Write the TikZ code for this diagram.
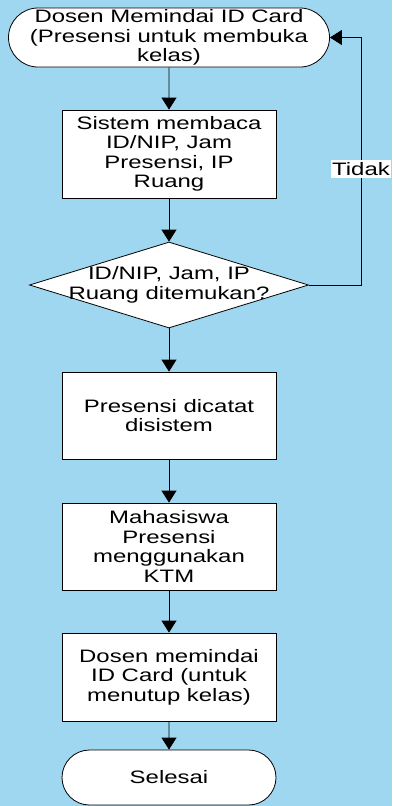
\documentclass[tikz,border=0pt]{standalone}
\usepackage{fontspec}
\setmainfont{Liberation Sans}[FakeStretch=1.33]
\usetikzlibrary{shapes.geometric,shapes.misc,arrows.meta}
\definecolor{bgblue}{RGB}{160,215,240}
\begin{document}
\begin{tikzpicture}[x=1pt,y=-1pt,
  every node/.style={font=\fontsize{18}{19.5}\selectfont, align=center},
  boxnode/.style={draw=black, fill=white, line width=0.8pt, minimum width=214pt, minimum height=87pt, inner sep=0pt},
  termnode/.style={rounded rectangle, draw=black, fill=white, line width=0.8pt, inner sep=0pt},
  link/.style={line width=0.8pt, -{Triangle[width=15pt,length=12pt]}}]
\fill[bgblue] (0,0) rectangle (392,806);
\useasboundingbox (0,0) rectangle (392,806);
\node[termnode, minimum width=321pt, minimum height=59pt] (start) at (169,37.5)
  {Dosen Memindai ID Card\\(Presensi untuk membuka\\kelas)};
\node[boxnode, minimum height=88pt] (b1) at (169,154)
  {Sistem membaca\\ID/NIP, Jam\\Presensi, IP\\Ruang};
\node[diamond, draw=black, fill=white, line width=0.8pt, minimum width=279pt, minimum height=86pt, inner sep=0pt] (dec) at (169,285) {};
\node (dectext) at (169,285) {ID/NIP, Jam, IP\\Ruang ditemukan?};
\node[boxnode] (b2) at (169,415.5) {Presensi dicatat\\disistem};
\node[boxnode] (b3) at (169,546.5) {Mahasiswa\\Presensi\\menggunakan\\KTM};
\node[boxnode, minimum height=88pt] (b4) at (169,677) {Dosen memindai\\ID Card (untuk\\menutup kelas)};
\node[termnode, minimum width=214pt, minimum height=55pt] (end) at (169,777.5) {Selesai};
\draw[link] (start) -- (b1);
\draw[link] (b1) -- (dec);
\draw[link] (dec) -- (b2);
\draw[link] (b2) -- (b3);
\draw[link] (b3) -- (b4);
\draw[link] (b4) -- (end);
\coordinate (loopc) at (361,285);
\draw[link] (dec.east) -- (loopc) |- (start.east);
\node[fill=white, inner xsep=1pt, inner ysep=2pt] (tidak) at (361,169) {Tidak};
\end{tikzpicture}
\end{document}
